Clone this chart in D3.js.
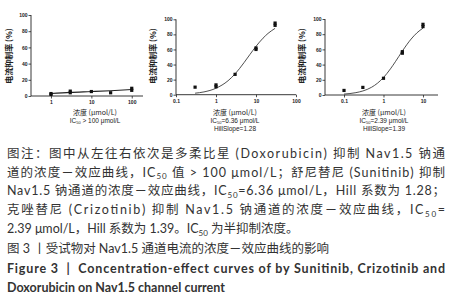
<!DOCTYPE html>
<html><head><meta charset="utf-8">
<script src="https://cdn.jsdelivr.net/npm/d3@7"></script>
<style>html,body{margin:0;padding:0;background:#fff;}svg{display:block;}</style>
</head><body>
<svg id="c" width="454" height="300"></svg>
<script>
// ---------- data ----------
const yTicks = [0, 20, 40, 60, 80, 100];
const doxTicks = [1, 10, 100];
const sunTicks = [0.1, 1, 10, 100];
const crzTicks = [0.1, 1, 10];
const doxX = [1, 1, 3, 3, 10, 30, 100, 100];
const doxY = [2, 3, 4, 6, 5.5, 4, 7, 9.5];
const doxFitX = [1, 3, 10, 30, 100];
const doxFitY = [3, 4.5, 5.5, 6.5, 8];
const sunX = [0.3, 1, 1, 3, 10, 10, 30, 30];
const sunY = [10, 10.5, 13, 27, 60, 62, 92, 95];
const sunFitX = [0.3, 0.5, 1, 2, 3, 5, 7, 10, 15, 20, 30];
const sunFitY = [2.0, 3.7, 8.6, 18.5, 27.6, 42.4, 53.1, 64.1, 75.0, 81.3, 88.0];
const crzX = [0.1, 0.3, 1, 3, 3, 10, 10];
const crzY = [6, 10, 22, 55, 57, 90, 93];
const crzFitX = [0.1, 0.2, 0.3, 0.5, 0.7, 1, 1.5, 2, 3, 5, 7, 10];
const crzFitY = [1.2, 3.1, 5.3, 10.2, 15.4, 23.0, 34.4, 43.8, 57.8, 73.6, 81.7, 88.0];
const yTitle = "电流抑制率 (%)";
const xTitle = "浓度 (μmol/L)";
const ic50Labels = [["IC", "50", " > 100 μmol/L"], ["IC", "50", "=6.36 μmol/L"], ["IC", "50", "=2.39 μmol/L"]];
const hillLabels = [null, "HillSlope=1.28", "HillSlope=1.39"];

const svg = d3.select("#c");
const cjk = "'Noto Sans CJK SC', sans-serif";
const lat = "Lato, 'Noto Sans CJK SC', sans-serif";

const panels = [
  {xd:[0.32,190], xr:[31,143], yr:[96,15], ticks:doxTicks, px:doxX, py:doxY, fx:doxFitX, fy:doxFitY, lw:1.1, tx:95, ylx:12},
  {xd:[0.1,100], xr:[176,296], yr:[94.7,19.3], ticks:sunTicks, px:sunX, py:sunY, fx:sunFitX, fy:sunFitY, lw:0.8, tx:235, ylx:156},
  {xd:[0.033,24], xr:[325,438], yr:[95,19], ticks:crzTicks, px:crzX, py:crzY, fx:crzFitX, fy:crzFitY, lw:0.8, tx:384, ylx:305}
];

panels.forEach((p, i) => {
  const x = d3.scaleLog().domain(p.xd).range(p.xr);
  const y = d3.scaleLinear().domain([0,100]).range(p.yr);
  const g = svg.append("g");
  const ya = g.append("g").attr("transform", `translate(${p.xr[0]},0)`)
    .call(d3.axisLeft(y).tickValues(yTicks).tickSize(2.5).tickPadding(1));
  const xa = g.append("g").attr("transform", `translate(0,${p.yr[0]})`)
    .call(d3.axisBottom(x).tickValues(p.ticks).tickFormat(d => d < 1 ? d3.format(".1f")(d) : d3.format("d")(d)).tickSize(2.5).tickPadding(2));
  [ya, xa].forEach(a => {
    a.select(".domain").attr("stroke", "#222").attr("stroke-width", 0.9);
    a.selectAll(".tick line").attr("stroke", "#222").attr("stroke-width", 0.8);
    a.selectAll("text").attr("font-family", "Arial, 'Liberation Sans', sans-serif").attr("font-size", 5).attr("font-weight", "bold").attr("fill", "#222");
  });
  ya.select(".domain").attr("d", `M0,${p.yr[0]}V${p.yr[1]}`);
  xa.select(".domain").attr("d", `M${p.xr[0]},0H${p.xr[1]}`);

  const line = d3.line().x(d => x(d[0])).y(d => y(d[1])).curve(d3.curveMonotoneX);
  g.append("path").attr("d", line(d3.zip(p.fx, p.fy)))
    .attr("fill", "none").attr("stroke", "#222").attr("stroke-width", p.lw);
  g.selectAll("rect.pt").data(d3.zip(p.px, p.py)).join("rect")
    .attr("x", d => x(d[0]) - 1.6).attr("y", d => y(d[1]) - 1.6)
    .attr("width", 3.2).attr("height", 3.2).attr("fill", "#111");

  g.append("text").attr("transform", `translate(${p.ylx},56) rotate(-90)`)
    .attr("text-anchor", "middle").attr("font-family", cjk).attr("font-size", 8).attr("font-weight", "bold")
    .attr("fill", "#222").text(yTitle);
  g.append("text").attr("x", p.tx).attr("y", 114.5).attr("text-anchor", "middle")
    .attr("font-family", cjk).attr("font-size", 7).attr("fill", "#222").text(xTitle);
  const t = g.append("text").attr("x", p.tx).attr("y", 122.5).attr("text-anchor", "middle")
    .attr("font-family", "Arial, 'Liberation Sans', sans-serif").attr("font-size", 6.5).attr("fill", "#222");
  t.append("tspan").text(ic50Labels[i][0]);
  t.append("tspan").attr("font-size", 4).attr("dy", 1.5).text(ic50Labels[i][1]);
  t.append("tspan").attr("dy", -1.5).text(ic50Labels[i][2]);
  if (hillLabels[i]) {
    g.append("text").attr("x", p.tx).attr("y", 131).attr("text-anchor", "middle")
      .attr("font-family", "Arial, 'Liberation Sans', sans-serif").attr("font-size", 6.5).attr("fill", "#222").text(hillLabels[i]);
  }
});

// ---------- caption ----------
const capLines = [
  {seg:[["图注：图中从左往右依次是多柔比星 (Doxorubicin) 抑制 Nav1.5 钠通"]], j:true},
  {seg:[["道的浓度－效应曲线，IC"],["50",1],[" 值 > 100 μmol/L；舒尼替尼 (Sunitinib) 抑制"]], j:true},
  {seg:[["Nav1.5 钠通道的浓度－效应曲线，IC"],["50",1],["=6.36 μmol/L，Hill 系数为 1.28；"]], j:true},
  {seg:[["克唑替尼 (Crizotinib) 抑制 Nav1.5 钠通道的浓度－效应曲线，IC"],["50",1],["="]], j:true},
  {seg:[["2.39 μmol/L，Hill 系数为 1.39。IC"],["50",1],[" 为半抑制浓度。"]], j:false},
  {seg:[["图 3 丨受试物对 Nav1.5 通道电流的浓度－效应曲线的影响"]], j:false},
  {seg:[["Figure 3  |  Concentration-effect curves of by Sunitinib, Crizotinib and"]], j:true, b:true},
  {seg:[["Doxorubicin on Nav1.5 channel current"]], j:false, b:true}
];
const capY = [157.5, 176.5, 195, 214, 233, 252.5, 273, 292];
capLines.forEach((l, i) => {
  const t = svg.append("text").attr("x", 7).attr("y", capY[i])
    .attr("font-family", lat).attr("font-size", 12.5).attr("fill", "#333")
    .attr("font-weight", l.b ? "bold" : "normal")
    .attr("xml:space", "preserve").style("white-space", "pre");
  l.seg.forEach(s => {
    if (s[1]) {
      t.append("tspan").attr("font-size", 8).attr("dy", 2.5).text(s[0]);
    } else {
      const ts = t.append("tspan").text(s[0]);
      if (t.selectAll("tspan").size() > 1) ts.attr("dy", -2.5);
    }
  });
  if (l.j) t.attr("textLength", 438).attr("lengthAdjust", "spacing");
});
</script>
</body></html>
